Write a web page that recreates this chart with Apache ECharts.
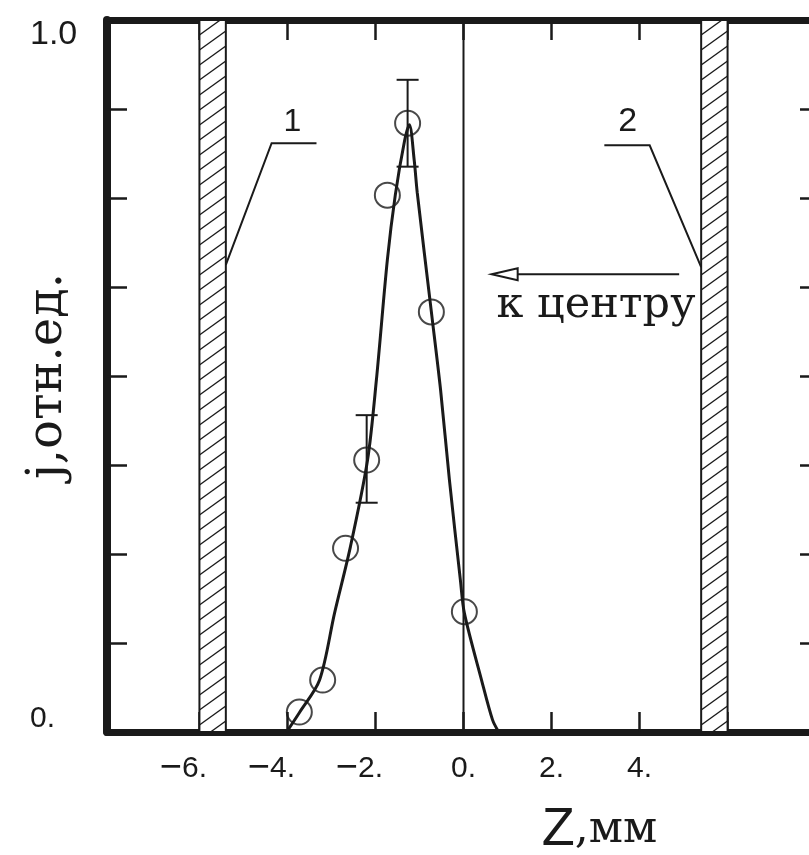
<!DOCTYPE html>
<html><head><meta charset="utf-8">
<script src="https://cdn.jsdelivr.net/npm/echarts@6/dist/echarts.min.js"></script>
<style>html,body{margin:0;padding:0;background:#fff}#c{width:809px;height:855px}</style>
</head><body><div id="c"></div>
<script>
// ---- data ----
const xTickValues = [-6, -4, -2, 0, 2, 4, 6];
const xLabelValues = [-6, -4, -2, 0, 2, 4];
const yTickLabels = { 0: '0.', 1: '1.0' };
// calculated profile (z, j)
const curveZ = [-4.02, -3.73, -3.27, -2.93, -2.57, -2.18, -1.98, -1.73, -1.55, -1.34, -1.23, -1.12, -1.05, -0.73, -0.52, -0.32, -0.07, 0.02, 0.41, 0.66, 0.8];
const curveJ = [0.0, 0.027, 0.073, 0.167, 0.26, 0.382, 0.494, 0.663, 0.754, 0.83, 0.853, 0.803, 0.757, 0.59, 0.48, 0.354, 0.213, 0.167, 0.073, 0.017, 0.0];
// measured points (z, j)
const pointZ = [-1.27, -1.73, -0.73, -2.2, -2.68, 0.02, -3.2, -3.73];
const pointJ = [0.855, 0.754, 0.59, 0.382, 0.258, 0.169, 0.073, 0.028];
// error bars (z, low, high)
const errZ = [-1.27, -2.2];
const errLow = [0.794, 0.322];
const errHigh = [0.916, 0.445];
// walls (hatched): z from, z to
const wallFrom = [-6.0, 5.4];
const wallTo = [-5.4, 6.0];
const centerZ = 0;
// annotations in data units
const leader1 = [[-3.34, 0.827], [-4.36, 0.827], [-5.4, 0.656]];
const label1 = { text: '1', at: [-3.89, 0.857] };
const leader2 = [[3.2, 0.824], [4.23, 0.824], [5.4, 0.653]];
const label2 = { text: '2', at: [3.73, 0.857] };
const arrowFrom = [4.9, 0.643];
const arrowTip = [0.64, 0.643];
const arrowText = { text: 'к центру', at: [0.75, 0.598] };
const yName = 'j,отн.ед.';
const xName = ['Z', ',мм'];

// ---- chart ----
const INK = '#1a1a1a';
const SERIF = 'DejaVu Serif';
const curveData = curveZ.map((z, i) => [z, curveJ[i]]);
const pointData = pointZ.map((z, i) => [z, pointJ[i]]);
const errData = errZ.map((z, i) => [z, errLow[i], errHigh[i]]);
const wallData = wallFrom.map((a, i) => [a, wallTo[i]]);

function fmtX(v) {
  if (v < 0) return '{m|−}{n|' + Math.abs(v) + '.}';
  return '{p|' + v + '.}';
}
const xRich = {
  m: { fontSize: 38, lineHeight: 36, fontFamily: 'Liberation Sans', color: INK },
  n: { fontSize: 30, lineHeight: 36, fontFamily: 'Liberation Sans', color: INK, padding: [0, 32, 0, 0] },
  p: { fontSize: 30, lineHeight: 36, fontFamily: 'Liberation Sans', color: INK }
};

const axisBase = {
  type: 'value', min: -8.1, max: 8.1,
  axisLine: { show: true, onZero: false, lineStyle: { color: INK, width: 7 } },
  axisTick: { show: true, inside: true, length: 20, customValues: xTickValues, lineStyle: { color: INK, width: 2.5 } },
  splitLine: { show: false }
};
const yBase = {
  type: 'value', min: 0, max: 1, interval: 0.125,
  axisLine: { show: true, onZero: false, lineStyle: { color: INK, width: 8 } },
  axisTick: { show: true, inside: true, length: 20, lineStyle: { color: INK, width: 2.5 } },
  splitLine: { show: false }
};

const option = {
  animation: false,
  backgroundColor: '#fff',
  grid: { left: 107, top: 20, width: 713, height: 712, containLabel: false, outerBoundsMode: 'none' },
  xAxis: [
    Object.assign({}, axisBase, {
      position: 'bottom',
      axisLabel: { show: true, margin: 19, customValues: xLabelValues, formatter: fmtX, rich: xRich }
    }),
    Object.assign({}, axisBase, { position: 'top', axisLabel: { show: false } })
  ],
  yAxis: [
    Object.assign({}, yBase, {
      position: 'left',
      name: yName, nameLocation: 'middle', nameRotate: 90, nameGap: 34, nameMoveOverlap: false,
      nameTextStyle: { fontFamily: SERIF, fontSize: 48, color: INK },
      axisLabel: {
        show: true, align: 'left', margin: 77,
        formatter: v => v === 1 ? '{t|1.0}' : (v === 0 ? '{b|0.}' : ''),
        rich: {
          t: { fontSize: 34, fontFamily: 'Liberation Sans', color: INK, padding: [30, 0, 0, 0] },
          b: { fontSize: 30, fontFamily: 'Liberation Sans', color: INK, padding: [0, 0, 26, 0] }
        }
      }
    }),
    Object.assign({}, yBase, { position: 'right', axisLabel: { show: false } })
  ],
  series: [
    {
      type: 'custom', name: 'walls', data: wallData, clip: false, z: 1,
      encode: { x: [0, 1] },
      renderItem: function (params, api) {
        const a = api.coord([api.value(0), 1]);
        const b = api.coord([api.value(1), 0]);
        const x0 = a[0], x1 = b[0], top = a[1], bot = b[1], w = x1 - x0;
        const children = [{ type: 'rect', shape: { x: x0, y: top, width: w, height: bot - top },
          style: { fill: '#fff', stroke: INK, lineWidth: 2 } }];
        const m = 0.72, step = 15;
        for (let yL = top + step; yL < bot + m * w; yL += step) {
          let xa = x0, ya = yL, xb = x1, yb = yL - m * w;
          if (ya > bot) { xa = x0 + (ya - bot) / m; ya = bot; }
          if (yb < top) { xb = x0 + (yL - top) / m; yb = top; }
          if (xb <= xa) continue;
          children.push({ type: 'line', shape: { x1: xa, y1: ya, x2: xb, y2: yb },
            style: { stroke: INK, lineWidth: 1.4 } });
        }
        return { type: 'group', children: children };
      }
    },
    {
      type: 'line', name: 'center', data: [[centerZ, 0], [centerZ, 1]], symbol: 'none', z: 2,
      lineStyle: { color: INK, width: 2 }
    },
    {
      type: 'line', name: 'curve', data: curveData, symbol: 'none', smooth: 0.3, z: 3,
      lineStyle: { color: INK, width: 3 }
    },
    {
      type: 'custom', name: 'err', data: errData, z: 4,
      renderItem: function (params, api) {
        const z = api.value(0);
        const lo = api.coord([z, api.value(1)]);
        const hi = api.coord([z, api.value(2)]);
        const cw = 11;
        const st = { stroke: INK, lineWidth: 2 };
        return { type: 'group', children: [
          { type: 'line', shape: { x1: lo[0], y1: lo[1], x2: hi[0], y2: hi[1] }, style: st },
          { type: 'line', shape: { x1: hi[0] - cw, y1: hi[1], x2: hi[0] + cw, y2: hi[1] }, style: st },
          { type: 'line', shape: { x1: lo[0] - cw, y1: lo[1], x2: lo[0] + cw, y2: lo[1] }, style: st }
        ] };
      }
    },
    {
      type: 'scatter', name: 'points', data: pointData, symbol: 'circle', symbolSize: 25, z: 5,
      itemStyle: { color: 'rgba(0,0,0,0)', borderColor: INK, borderWidth: 2 }
    }
  ]
};

const chart = echarts.init(document.getElementById('c'));
chart.setOption(option);

const px = p => chart.convertToPixel({ gridIndex: 0 }, p);
const tip = px(arrowTip), from = px(arrowFrom);
const headLen = 26, headHalf = 6;
const t1 = px(label1.at), t2 = px(label2.at), ta = px(arrowText.at);
const xNamePos = px([1.78, -0.138]);
chart.setOption({
  graphic: [
    { type: 'polyline', shape: { points: leader1.map(px) }, style: { stroke: INK, lineWidth: 2, fill: null }, z: 10 },
    { type: 'polyline', shape: { points: leader2.map(px) }, style: { stroke: INK, lineWidth: 2, fill: null }, z: 10 },
    { type: 'text', x: t1[0], y: t1[1], style: { text: label1.text, fontSize: 32, fontFamily: 'Liberation Sans', fill: INK, align: 'center', verticalAlign: 'middle' }, z: 10 },
    { type: 'text', x: t2[0], y: t2[1], style: { text: label2.text, fontSize: 34, fontFamily: 'Liberation Sans', fill: INK, align: 'center', verticalAlign: 'middle' }, z: 10 },
    { type: 'line', shape: { x1: from[0], y1: from[1], x2: tip[0] + headLen, y2: tip[1] }, style: { stroke: INK, lineWidth: 2 }, z: 10 },
    { type: 'polygon', shape: { points: [[tip[0], tip[1]], [tip[0] + headLen, tip[1] - headHalf], [tip[0] + headLen, tip[1] + headHalf]] },
      style: { fill: '#fff', stroke: INK, lineWidth: 2 }, z: 10 },
    { type: 'text', x: ta[0], y: ta[1], style: { text: arrowText.text, fontSize: 43, fontFamily: SERIF, fill: INK, align: 'left', verticalAlign: 'middle' }, z: 10 },
    { type: 'text', x: xNamePos[0], y: xNamePos[1], z: 10,
      style: { text: '{z|' + xName[0] + '}{m|' + xName[1] + '}', align: 'left', verticalAlign: 'middle',
        rich: { z: { fontSize: 54, fontFamily: 'Liberation Sans', fill: INK }, m: { fontSize: 44, fontFamily: SERIF, fill: INK } } } }
  ]
});
</script>
</body></html>
